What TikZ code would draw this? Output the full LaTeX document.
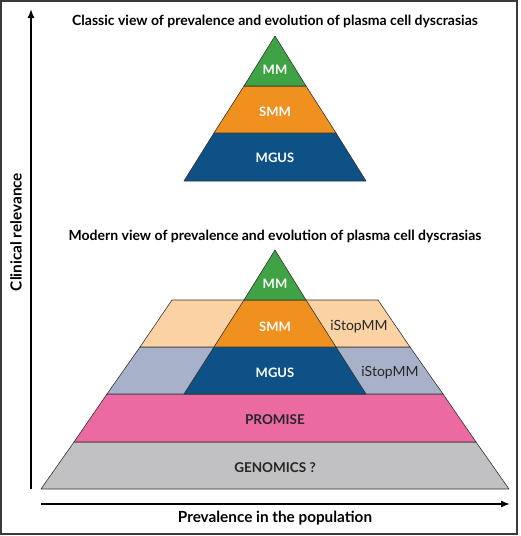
\documentclass[tikz,border=0pt]{standalone}
\usepackage{fontspec}
\setmainfont{Lato}
\usetikzlibrary{arrows.meta}

\definecolor{mmgreen}{HTML}{3FA345}
\definecolor{smmorange}{HTML}{F0901F}
\definecolor{mgusblue}{HTML}{0D5186}
\definecolor{peach}{HTML}{FBD2A4}
\definecolor{slate}{HTML}{A8B1CA}
\definecolor{promisepink}{HTML}{EB6AA1}
\definecolor{genogray}{HTML}{C1C1C3}
\definecolor{framegray}{HTML}{3A3A3A}

\tikzset{
    band/.style={draw=black!80, line width=0.6pt, line join=round},
    whitelabel/.style={text=white, font=\bfseries\fontsize{13}{15}\selectfont},
    darklabel/.style={text=black!85, font=\bfseries\fontsize{13.5}{16}\selectfont},
    sidelabel/.style={text=black!85, font=\fontsize{14}{16}\selectfont},
    titlelabel/.style={text=black, font=\bfseries\fontsize{14}{16}\selectfont},
    axislabel/.style={text=black, font=\bfseries\fontsize{15.3}{18}\selectfont},
    axisline/.style={line width=1.4pt, -{Latex[length=9pt, width=7pt]}}
}

\begin{document}
\begin{tikzpicture}[x=1pt, y=-1pt]
    \useasboundingbox (0,0) rectangle (520,536);
    \draw [framegray, line width=1.6pt] (1,1) rectangle (517,534);

    % classic pyramid
    \node [titlelabel] (classic) at (275, 21) {Classic view of prevalence and evolution of plasma cell dyscrasias};
    \draw [band, fill=mgusblue] (214,133) -- (336,133) -- (366,181) -- (184,181) -- cycle;
    \draw [band, fill=smmorange] (244,86) -- (306,86) -- (336,133) -- (214,133) -- cycle;
    \draw [band, fill=mmgreen] (275,36) -- (306,86) -- (244,86) -- cycle;
    \node [whitelabel] (cmm) at (275, 70) {MM};
    \node [whitelabel] (csmm) at (275, 112) {SMM};
    \node [whitelabel] (cmgus) at (275, 158) {MGUS};

    % modern pyramid
    \node [titlelabel] (modern) at (275, 236) {Modern view of prevalence and evolution of plasma cell dyscrasias};
    \draw [band, fill=genogray] (74,442) -- (476,442) -- (509,489) -- (41,489) -- cycle;
    \draw [band, fill=promisepink] (107,394) -- (443,394) -- (476,442) -- (74,442) -- cycle;
    \draw [band, fill=slate] (140,347) -- (410,347) -- (443,394) -- (107,394) -- cycle;
    \draw [band, fill=peach] (172,300) -- (378,300) -- (410,347) -- (140,347) -- cycle;
    \draw [band, fill=mgusblue] (214,347) -- (336,347) -- (366,394) -- (184,394) -- cycle;
    \draw [band, fill=smmorange] (244,300) -- (306,300) -- (336,347) -- (214,347) -- cycle;
    \draw [band, fill=mmgreen] (275,250) -- (306,300) -- (244,300) -- cycle;
    \node [whitelabel] (mmm) at (275, 284) {MM};
    \node [whitelabel] (msmm) at (275, 327) {SMM};
    \node [whitelabel] (mmgus) at (275, 373) {MGUS};
    \node [sidelabel] (istopa) at (359, 327) {iStopMM};
    \node [sidelabel] (istopb) at (390, 373) {iStopMM};
    \node [darklabel] (promise) at (275, 420) {PROMISE};
    \node [darklabel] (genomics) at (275, 468) {GENOMICS ?};

    % axes
    \coordinate (origin) at (31, 489);
    \coordinate (ytip) at (31, 9);
    \coordinate (xstart) at (41, 504);
    \coordinate (xtip) at (510, 504);
    \draw [axisline] (origin) -- (ytip);
    \draw [axisline] (xstart) -- (xtip);
    \node [axislabel, rotate=90] (ylab) at (16, 232) {Clinical relevance};
    \node [axislabel] (xlab) at (275, 518) {Prevalence in the population};
\end{tikzpicture}
\end{document}
